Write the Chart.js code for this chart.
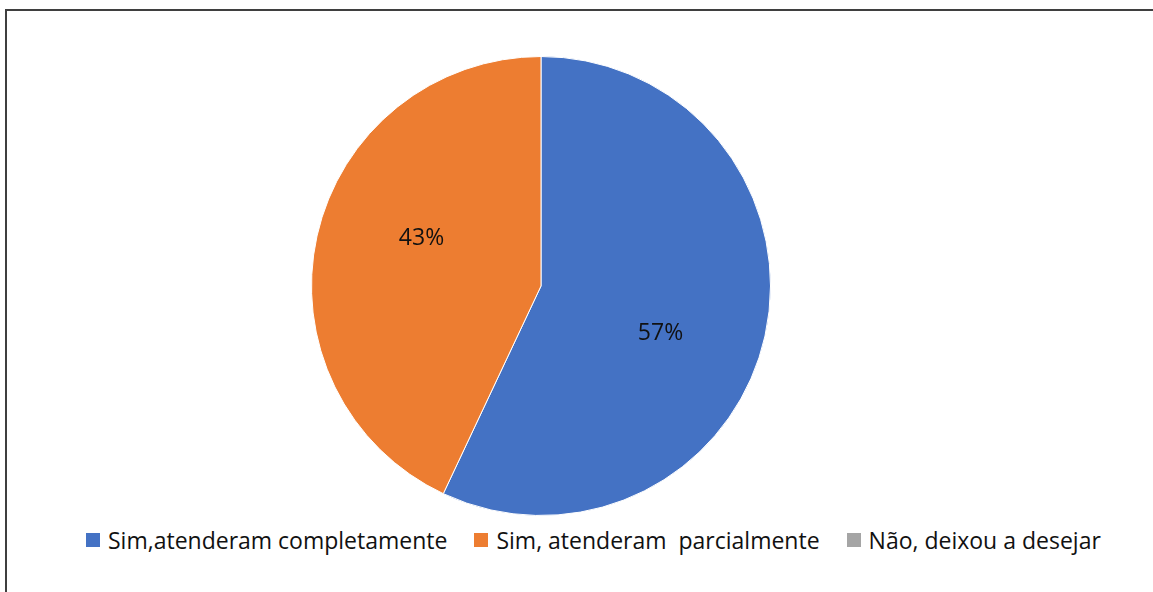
<!DOCTYPE html>
<html>
<head>
<meta charset="utf-8">
<script src="https://cdn.jsdelivr.net/npm/chart.js"></script>
<style>
  html, body { margin: 0; padding: 0; background: #fff; overflow: hidden; }
  body { width: 1153px; height: 592px; position: relative; font-family: "Open Sans", Lato, sans-serif; }
  .frame { position: absolute; left: 5px; top: 9px; width: 1160px; height: 600px; border-left: 2px solid #3f3f3f; border-top: 2px solid #3f3f3f; }
  .pie-box { position: absolute; left: 311px; top: 56px; width: 460px; height: 460px; }
  .legend { position: absolute; left: 86px; top: 524px; display: flex; align-items: center; font-size: 23px; color: #111; white-space: pre; }
  .legend .item { display: flex; align-items: center; margin-right: 27px; }
  .legend .box { width: 14px; height: 14px; margin-right: 8px; }
</style>
</head>
<body>
<div class="frame"></div>
<div class="pie-box"><canvas id="pieChart"></canvas></div>
<div class="legend" id="legend"></div>
<script>
var categories = ['Sim,atenderam completamente', 'Sim, atenderam  parcialmente', 'Não, deixou a desejar'];
var values = [57, 43, 0];
var colors = ['#4472C4', '#ED7D31', '#A5A5A5'];

document.addEventListener("DOMContentLoaded", function () {
    // percent labels inside the slices (nudged a bit like Excel's best fit)
    var labelPlugin = {
        id: 'pctLabels',
        afterDatasetsDraw: function (chart) {
            var ctx = chart.ctx;
            var meta = chart.getDatasetMeta(0);
            var total = values.reduce(function (a, b) { return a + b; }, 0);
            ctx.save();
            ctx.font = '23px "Open Sans", Lato, sans-serif';
            ctx.fillStyle = '#111';
            ctx.textAlign = 'center';
            ctx.textBaseline = 'middle';
            meta.data.forEach(function (arc, i) {
                if (!values[i]) return;
                var mid = (arc.startAngle + arc.endAngle) / 2 + 9 * Math.PI / 180;
                var r = arc.outerRadius * 0.56;
                var pct = Math.round(values[i] / total * 100) + '%';
                ctx.fillText(pct, arc.x + Math.cos(mid) * r, arc.y + Math.sin(mid) * r);
            });
            ctx.restore();
        }
    };

    var ctx = document.getElementById('pieChart').getContext('2d');
    new Chart(ctx, {
        type: 'pie',
        data: {
            labels: categories,
            datasets: [{
                data: values,
                backgroundColor: colors,
                borderColor: '#fff',
                borderWidth: 1
            }]
        },
        options: {
            responsive: true,
            maintainAspectRatio: false,
            animation: false,
            layout: { padding: 0 },
            plugins: {
                legend: { display: false },
                tooltip: { enabled: false }
            }
        },
        plugins: [labelPlugin]
    });

    var legend = document.getElementById('legend');
    categories.forEach(function (name, i) {
        var item = document.createElement('div');
        item.className = 'item';
        var box = document.createElement('span');
        box.className = 'box';
        box.style.background = colors[i];
        var txt = document.createElement('span');
        txt.textContent = name;
        item.appendChild(box);
        item.appendChild(txt);
        legend.appendChild(item);
    });
});
</script>
</body>
</html>
